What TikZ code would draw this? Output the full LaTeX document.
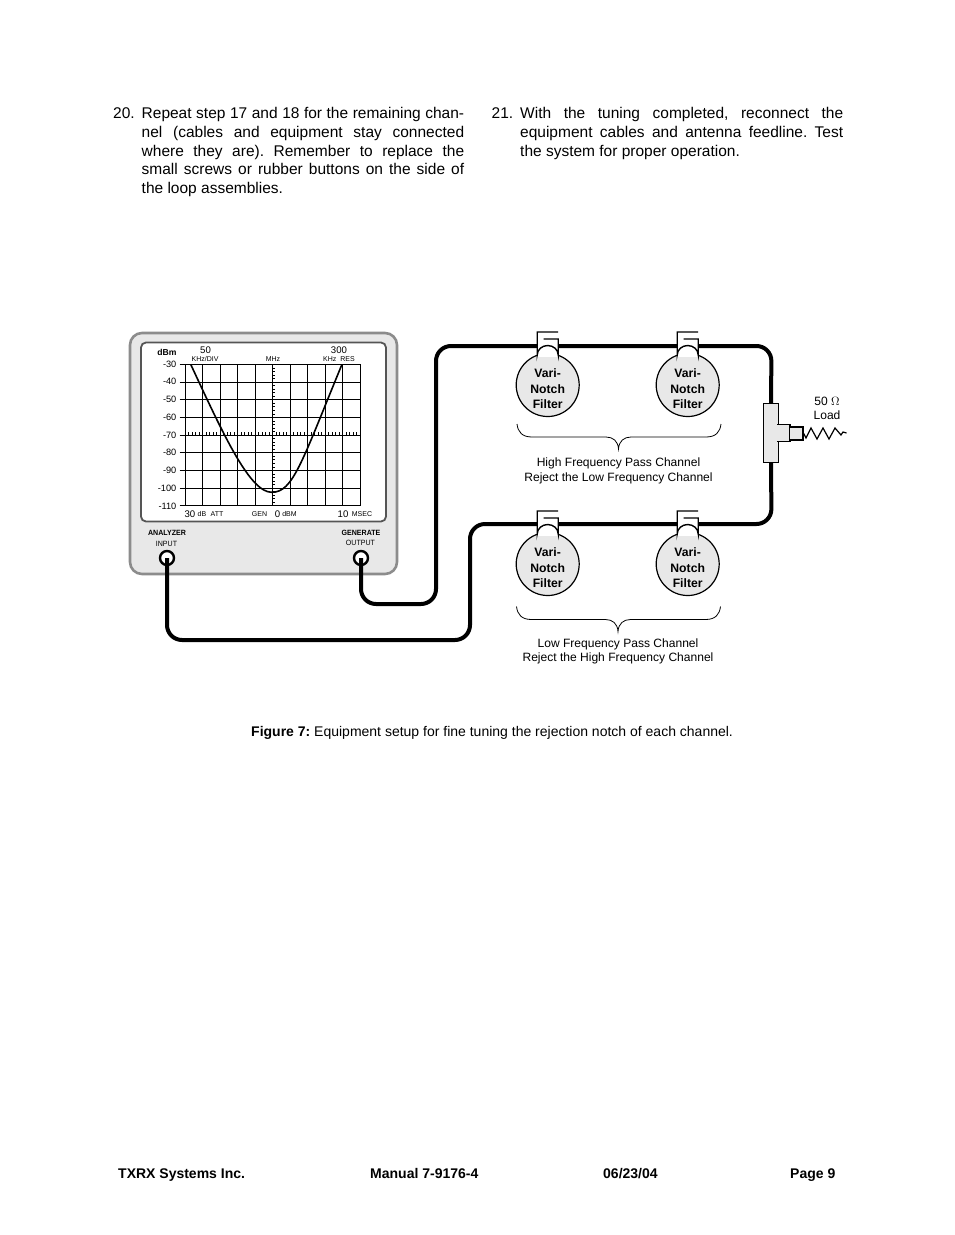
\documentclass[tikz,border=0pt]{standalone}
\usepackage{fontspec}
\setmainfont{Liberation Sans}
\definecolor{panel}{HTML}{E8E8E8}
\definecolor{rim}{HTML}{8C8C8C}
\definecolor{bez}{HTML}{555555}
\newcommand{\fs}[1]{\fontsize{#1}{#1}\selectfont}
\newcommand{\jline}[2]{\hbox to #1{#2}}
\frenchspacing
\tikzset{
 cable/.style={line width=4pt,line join=round,rounded corners=15pt},
 gridline/.style={line width=0.9pt},
 filter/.style={circle,draw,line width=1.2pt,fill=panel,minimum size=63pt,inner sep=0pt},
 txt/.style={inner sep=0pt,anchor=base west,font=\fs{15.5}},
 captext/.style={inner sep=0pt,anchor=base,font=\fs{12.05}},
 small/.style={inner sep=0pt,anchor=base,font=\fs{9.6}},
 tiny/.style={inner sep=0pt,anchor=base,font=\fs{7}},
 axislabel/.style={inner sep=0pt,anchor=base east,font=\fs{9.2}},
 foot/.style={inner sep=0pt,anchor=base west,font=\fs{14}\bfseries},
 port/.style={circle,draw,line width=2.4pt,fill=white,minimum size=14pt,inner sep=0pt},
 flab/.style={inner sep=0pt,anchor=base,font=\fs{12.2}\bfseries},
 brace/.style={line width=0.8pt},
 loopline/.style={line width=1.4pt},
}
\begin{document}
\begin{tikzpicture}[x=1pt,y=-1pt]
\useasboundingbox (0,0) rectangle (954,1235);
\fill[white] (0,0) rectangle (954,1235);
% body text
\node[txt] at (113,118) {20.};
\node[txt] at (141.5,118) {\jline{322.5pt}{Repeat step 17 and 18 for the remaining chan-}};
\node[txt] at (141.5,137) {\jline{322.5pt}{nel (cables and equipment stay connected}};
\node[txt] at (141.5,156) {\jline{322.5pt}{where they are). Remember to replace the}};
\node[txt] at (141.5,174.5) {\jline{322.5pt}{small screws or rubber buttons on the side of}};
\node[txt] at (141.5,193) {the loop assemblies.};
\node[txt] at (491.5,118) {21.};
\node[txt] at (520,118) {\jline{323pt}{With the tuning completed, reconnect the}};
\node[txt] at (520,137) {\jline{323pt}{equipment cables and antenna feedline. Test}};
\node[txt] at (520,156) {the system for proper operation.};
% analyzer
\draw[rim,fill=panel,line width=2.6pt,rounded corners=12pt] (130,333) rectangle (397,574);
\draw[bez,fill=white,line width=1.8pt,rounded corners=5pt] (141,342.5) rectangle (386,521.5);
\foreach \i in {0,...,10} \draw[gridline] ({185.3+17.47*\i},364.3) -- ({185.3+17.47*\i},505.7);
\foreach \i in {0,...,8} \draw[gridline] (179.5,{364.3+17.68*\i}) -- (360,{364.3+17.68*\i});
\foreach \i in {1,...,39} \draw[line width=0.6pt] (272.7,{364.3+3.536*\i}) -- (275.2,{364.3+3.536*\i});
\foreach \i in {1,...,49} \draw[line width=0.6pt] ({185.3+3.494*\i},434.9) -- ({185.3+3.494*\i},432.4);
\draw[line width=1.6pt] (190.7,364.3) .. controls (224,436) and (250,492.3) .. (271.7,492.3) .. controls (293,492.3) and (301.2,463.4) .. (342,364.3);
\foreach \v/\y in {-30/367,-40/384.5,-50/402,-60/420,-70/438,-80/455.5,-90/473,-100/491,-110/509}
  \node[axislabel] at (176.5,\y) {\v};
\node[inner sep=0pt,anchor=base,font=\fs{8.6}\bfseries] at (167,355) {dBm};
\node[small] at (205.5,353) {50};
\node[small] at (339,353) {300};
\node[tiny] at (205,361) {KHz/DIV};
\node[tiny] at (273,361) {MHz};
\node[tiny] at (339,361) {KHz\ \ RES};
\node[small] at (190,517) {30};
\node[tiny] at (202,516) {dB};
\node[tiny] at (217,516) {ATT};
\node[tiny] at (259.5,516) {GEN};
\node[small] at (277.5,517) {0};
\node[tiny] at (289.5,516) {dBM};
\node[small] at (343,517) {10};
\node[tiny] at (362,516) {MSEC};
\node[inner sep=0pt,anchor=base,font=\fs{7.6}\bfseries,xscale=.93] at (167,535) {ANALYZER};
\node[inner sep=0pt,anchor=base,font=\fs{7.6},xscale=.93] at (166.5,546) {INPUT};
\node[inner sep=0pt,anchor=base,font=\fs{7.6}\bfseries,xscale=.93] at (361,535) {GENERATE};
\node[inner sep=0pt,anchor=base,font=\fs{7.6},xscale=.93] at (360.5,545) {OUTPUT};
% ports and cables
\node[port] (inp) at (167,558) {};
\node[port] (outp) at (361,558) {};
\coordinate (teetop) at (771,404);
\coordinate (teebot) at (771,462);
\draw[cable] (outp.center) -- (361,604) -- (436,604) -- (436,346) -- (771.5,346) -- (teetop);
\draw[cable] (teebot) -- (771.5,524) -- (470,524) -- (470,640) -- (167,640) -- (inp.center);
% filters
\foreach \n/\cx/\cy in {a/547.7/385,b/687.7/385,c/547.7/564,d/687.7/564}{
  \node[filter] (\n) at (\cx,\cy) {};
  \fill[white] ({\cx-10.5},\cy-53) rectangle ({\cx+10.5},\cy-28);
  \fill[white] ({\cx-10.5},\cy-30) arc[start angle=180,end angle=360,x radius=10.5pt,y radius=-9.5pt] -- cycle;
  \draw[loopline] (\cx-4,\cy-46) -- ({\cx+10.5},\cy-46) -- ({\cx+10.5},\cy-30)
     arc[start angle=0,end angle=180,x radius=10.5pt,y radius=9.5pt] -- ({\cx-10.5},\cy-53) -- ({\cx+10.5},\cy-53);
  \node[flab] at (\cx,\cy-7.5) {Vari-};
  \node[flab] at (\cx,\cy+8.5) {Notch};
  \node[flab] at (\cx,\cy+23.5) {Filter};
}
% tee
\node[draw,line width=1.2pt,fill=panel,inner sep=0pt,minimum width=15.5pt,minimum height=59pt] (tee) at (771,433) {};
\node[draw,line width=1.2pt,fill=panel,inner sep=0pt,minimum width=12pt,minimum height=16.5pt] (arm) at (784,433) {};
\fill[panel] (777.2,425.4) rectangle (780,440.6);
\node[draw,line width=1.3pt,fill=panel,inner sep=0pt,minimum width=13.5pt,minimum height=13pt] (conn) at (796.3,433.5) {};
\draw[line width=1.2pt] (conn.east) -- (806,438) -- (811,428) -- (817,439) -- (823,428) -- (829,439) -- (835,428) -- (841,435) -- (843,432) -- (846.5,433);
\node[captext] at (827,405) {50 $\Omega$};
\node[captext] at (827,419) {Load};
% braces
\foreach \x/\y in {0/0,-0.5/182.5}{
\draw[brace] (517+\x,424+\y) .. controls (518+\x,432+\y) and (522+\x,437+\y) .. (532+\x,437+\y) -- (606+\x,437+\y) .. controls (613+\x,437+\y) and (618+\x,441+\y) .. (618.5+\x,449+\y) .. controls (619+\x,441+\y) and (624+\x,437+\y) .. (631+\x,437+\y) -- (706+\x,437+\y) .. controls (716+\x,437+\y) and (720+\x,432+\y) .. (721+\x,424+\y);
}
\node[captext] at (618.5,466) {High Frequency Pass Channel};
\node[captext] at (618.5,481) {Reject the Low Frequency Channel};
\node[captext] at (618,647) {Low Frequency Pass Channel};
\node[captext] at (618,661) {Reject the High Frequency Channel};
% caption
\node[inner sep=0pt,anchor=base west,font=\fs{14}] at (251,736) {\textbf{Figure 7:} Equipment setup for fine tuning the rejection notch of each channel.};
% footer
\node[foot] at (118,1178.5) {TXRX Systems Inc.};
\node[foot] at (370,1178.5) {Manual 7-9176-4};
\node[foot] at (603,1178.5) {06/23/04};
\node[foot] at (790,1178.5) {Page 9};
\end{tikzpicture}
\end{document}
